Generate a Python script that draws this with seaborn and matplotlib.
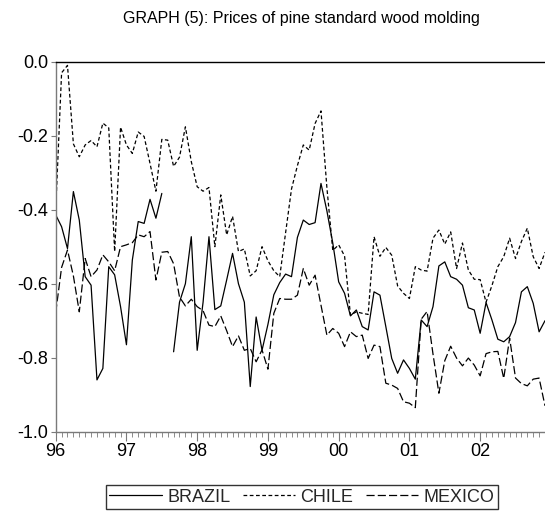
import numpy as np
import pandas as pd
import matplotlib
matplotlib.use("Agg")
import matplotlib.pyplot as plt
import seaborn as sns
from matplotlib.lines import Line2D

# ---------------- data (monthly, Jan 1996 .. Dec 2002) ----------------
year_labels = ["96", "97", "98", "99", "00", "01", "02"]
series_names = ["BRAZIL", "CHILE", "MEXICO"]

brazil = [-0.414, -0.446, -0.505, -0.351, -0.428, -0.581, -0.604, -0.860, -0.829, -0.554,
          -0.576, -0.662, -0.765, -0.536, -0.432, -0.437, -0.372, -0.423, -0.356, np.nan,
          -0.784, -0.650, -0.600, -0.473, -0.780, -0.650, -0.473, -0.670, -0.660, -0.590,
          -0.518, -0.600, -0.650, -0.878, -0.690, -0.780, -0.710, -0.630, -0.597, -0.574,
          -0.581, -0.475, -0.428, -0.440, -0.435, -0.329, -0.403, -0.490, -0.595, -0.626,
          -0.687, -0.671, -0.716, -0.725, -0.622, -0.631, -0.716, -0.802, -0.842, -0.806,
          -0.829, -0.858, -0.698, -0.716, -0.662, -0.552, -0.541, -0.581, -0.588, -0.604,
          -0.665, -0.671, -0.734, -0.651, -0.698, -0.750, -0.757, -0.743, -0.705, -0.622,
          -0.608, -0.653, -0.730, -0.700]

chile = [-0.400, -0.030, -0.010, -0.222, -0.257, -0.225, -0.213, -0.230, -0.166, -0.179,
         -0.513, -0.177, -0.225, -0.248, -0.190, -0.202, -0.275, -0.350, -0.210, -0.212,
         -0.283, -0.258, -0.176, -0.270, -0.338, -0.350, -0.340, -0.500, -0.360, -0.468,
         -0.418, -0.513, -0.506, -0.579, -0.565, -0.500, -0.538, -0.565, -0.581, -0.462,
         -0.344, -0.281, -0.225, -0.239, -0.167, -0.133, -0.340, -0.510, -0.495, -0.525,
         -0.685, -0.676, -0.680, -0.683, -0.473, -0.526, -0.502, -0.523, -0.606, -0.626,
         -0.640, -0.554, -0.563, -0.566, -0.477, -0.455, -0.493, -0.460, -0.559, -0.490,
         -0.563, -0.588, -0.589, -0.650, -0.605, -0.554, -0.527, -0.477, -0.532, -0.486,
         -0.450, -0.527, -0.559, -0.515]

mexico = [-0.678, -0.556, -0.509, -0.579, -0.676, -0.532, -0.581, -0.563, -0.522, -0.541,
          -0.565, -0.500, -0.495, -0.489, -0.468, -0.473, -0.459, -0.590, -0.515, -0.513,
          -0.546, -0.636, -0.660, -0.642, -0.662, -0.673, -0.712, -0.716, -0.687, -0.727,
          -0.770, -0.741, -0.780, -0.775, -0.811, -0.779, -0.831, -0.680, -0.640, -0.642,
          -0.642, -0.631, -0.559, -0.604, -0.577, -0.658, -0.739, -0.721, -0.734, -0.770,
          -0.730, -0.743, -0.739, -0.802, -0.766, -0.770, -0.869, -0.874, -0.883, -0.919,
          -0.923, -0.935, -0.696, -0.675, -0.790, -0.896, -0.808, -0.769, -0.801, -0.822,
          -0.801, -0.820, -0.849, -0.789, -0.784, -0.783, -0.856, -0.747, -0.855, -0.870,
          -0.876, -0.858, -0.855, -0.930]

# ---------------- style ----------------
sns.set_theme(style="white")
plt.rcParams["font.family"] = ["Liberation Sans", "DejaVu Sans"]
plt.rcParams["axes.unicode_minus"] = False

W, H = 545, 516
fig = plt.figure(figsize=(W / 100, H / 100), dpi=100)
fig.patch.set_facecolor("white")

ax_left, ax_right, ax_top, ax_bottom = 55.7, 545.0, 61.7, 431.7
ax = fig.add_axes([ax_left / W, (H - ax_bottom) / H,
                   (ax_right - ax_left) / W, (ax_bottom - ax_top) / H])

month = np.arange(len(brazil))
df = pd.DataFrame({
    "month": np.tile(month, 3),
    "value": brazil + chile + mexico,
    "country": np.repeat(series_names, len(month)),
})
df["segment"] = df.groupby("country")["value"].transform(lambda s: s.isna().cumsum())
df = df.dropna()

dash_styles = {"BRAZIL": "", "CHILE": (3.0, 2.0), "MEXICO": (6.5, 2.5)}
sns.lineplot(data=df, x="month", y="value", style="country", units="segment",
             estimator=None, dashes=dash_styles, color="black", linewidth=0.9,
             ax=ax, legend=False, sort=False)

# ---------------- axes ----------------
px_per_month = 70.9 / 12
ax.set_xlim(0, (ax_right - ax_left) / px_per_month)
ax.set_ylim(-1.0, 0.0)
ax.set_xticks(np.arange(0, 12 * len(year_labels), 12))
ax.set_xticklabels(year_labels)
ax.set_xticks(month, minor=True)
yt = np.round(np.arange(-1.0, 0.01, 0.2), 1)
ax.set_yticks(yt)
ax.set_yticklabels([f"{v:.1f}" if abs(v) > 1e-9 else "0.0" for v in yt])
ax.set_xlabel("")
ax.set_ylabel("")

grey = "#7a7a7a"
for side in ["left", "bottom"]:
    ax.spines[side].set_color(grey)
    ax.spines[side].set_linewidth(1.0)
ax.spines["top"].set_color("black")
ax.spines["top"].set_linewidth(1.0)
ax.spines["right"].set_visible(False)

ax.tick_params(axis="y", which="major", direction="out", length=3.6, width=0.8,
               color=grey, labelsize=13, pad=2, labelcolor="black", left=True)
ax.tick_params(axis="x", which="major", direction="out", length=6.5, width=0.8,
               color=grey, labelsize=13, pad=1.5, labelcolor="black", bottom=True)
ax.tick_params(axis="x", which="minor", direction="out", length=3.6, width=0.6,
               color=grey, bottom=True)

# ---------------- title ----------------
fig.text(301 / W, 1 - 18 / H, "GRAPH (5): Prices of pine standard wood molding",
         ha="center", va="center", fontsize=11.5, color="black")

# ---------------- legend ----------------
handles = [
    Line2D([], [], color="black", lw=0.9),
    Line2D([], [], color="black", lw=0.9, dashes=dash_styles["CHILE"]),
    Line2D([], [], color="black", lw=0.9, dashes=dash_styles["MEXICO"]),
]
leg = fig.legend(handles, series_names, loc="center",
                 bbox_to_anchor=(302 / W, 1 - 497 / H), ncol=3, frameon=True,
                 fancybox=False, shadow=False, fontsize=13, handlelength=2.9,
                 handletextpad=0.3, columnspacing=0.7, borderpad=0.2,
                 borderaxespad=0)
leg.get_frame().set_edgecolor("black")
leg.get_frame().set_linewidth(1.0)

fig.savefig("out.png", dpi=100, facecolor="white")
